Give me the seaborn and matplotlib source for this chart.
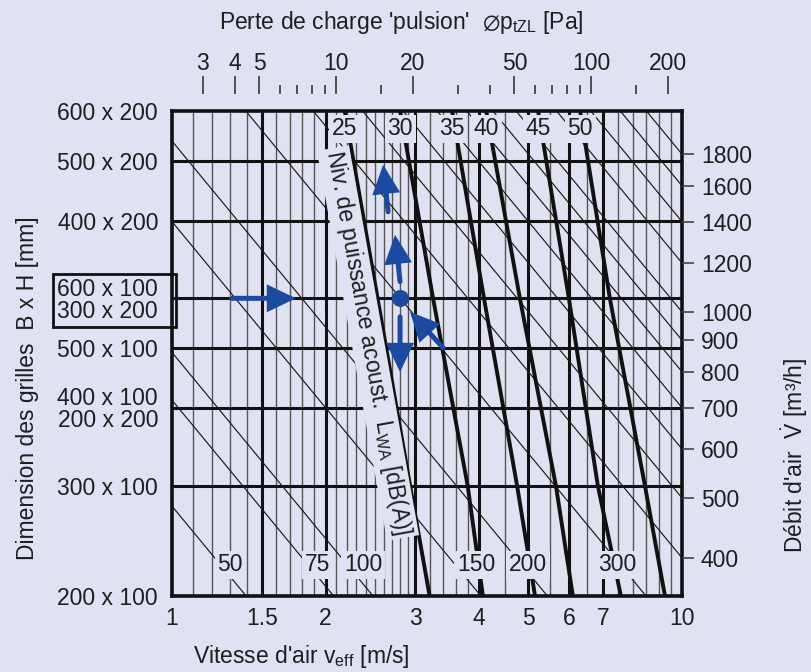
import numpy as np
import pandas as pd
import matplotlib
matplotlib.use("Agg")
import matplotlib.pyplot as plt
import seaborn as sns
from matplotlib.transforms import offset_copy, blended_transform_factory, IdentityTransform
from matplotlib.patches import Rectangle
from matplotlib.ticker import NullLocator, NullFormatter

# ---------------- data ----------------
grille_labels = ['200 x 100', '300 x 100', '400 x 100\n200 x 200', '500 x 100',
                 '600 x 100\n300 x 200', '400 x 200', '500 x 200', '600 x 200']
grille_flow10 = [347, 523, 700, 874, 1052, 1404, 1755, 2118]   # row position (m³/h at 10 m/s)
boxed_grille = '600 x 100\n300 x 200'

velocity_ticks = [1, 1.5, 2, 3, 4, 5, 6, 7, 10]
velocity_labels = ['1', '1.5', '2', '3', '4', '5', '6', '7', '10']
v_grid_thin = [1.1, 1.2, 1.3, 1.4, 1.6, 1.7, 1.8, 1.9, 2.1, 2.2, 2.3, 2.4, 2.5, 2.6, 2.7,
               2.8, 2.9, 3.2, 3.4, 3.6, 3.8, 4.5, 5.5, 6.5, 7.5, 8, 8.5, 9, 9.5]
v_grid_thick = [1.5, 2, 3, 4, 5, 6, 7]

flow_ticks = [400, 500, 600, 700, 800, 900, 1000, 1200, 1400, 1600, 1800]

dp_major = [3, 4, 5, 10, 20, 50, 100, 200]
dp_minor = [6, 7, 8, 9, 15, 30, 40, 60, 70, 80, 90, 150]
dp_coef = 2.27          # Δp = dp_coef * v²

diag_flows = [48.5, 72, 86, 140, 189, 295, 400, 500, 600, 700, 800, 900, 1000,
              1200, 1400, 1600, 1800]
flow_label_text = ['50', '75', '100', '150', '200', '300']
flow_label_v = [1.30, 1.93, 2.37, 3.95, 4.99, 7.45]

lw_levels = [25, 30, 35, 40, 45, 50]
lw_rows = [2118, 1052, 523, 347]
lw25_v = [2.18, 2.53, 2.93, 3.20]
lw30_v = [2.80, 3.25, 3.80, 4.07]
lw35_v = [3.54, 4.09, 4.75, 5.15]
lw40_v = [4.13, 4.81, 5.66, 6.11]
lw45_v = [5.22, 6.00, 6.84, 7.59]
lw50_v = [6.31, 7.22, 8.46, 9.26]

example_v = 2.8
example_row = 1052

# ---------------- style ----------------
BG = '#e0e2f1'
BLUE = '#1b4aa0'
TXT = '#1e1e1e'
FS = 16.5

sns.set_theme(style='white', rc={'axes.facecolor': BG, 'figure.facecolor': BG})
plt.rcParams['font.family'] = ['Liberation Sans', 'DejaVu Sans']
plt.rcParams['mathtext.fontset'] = 'custom'
plt.rcParams['mathtext.rm'] = 'Liberation Sans'
plt.rcParams['mathtext.it'] = 'Liberation Sans'
plt.rcParams['mathtext.fallback'] = 'stixsans'
plt.rcParams['text.color'] = TXT

fig = plt.figure(figsize=(8.11, 6.72), dpi=100, facecolor=BG)
ax = fig.add_axes([172 / 811, 1 - 596 / 672, 510 / 811, 485.5 / 672])
ax.set_facecolor(BG)
ax.set_xscale('log')
ax.set_yscale('log')
ax.set_xlim(1, 10)
ax.set_ylim(grille_flow10[0], grille_flow10[-1])

# grid
for v in v_grid_thin:
    ax.axvline(v, color='#555555', lw=1.0, zorder=1)
for v in v_grid_thick:
    ax.axvline(v, color='#111111', lw=2.2, zorder=1.2)
for f in grille_flow10[1:-1]:
    ax.axhline(f, color='#111111', lw=2.2, zorder=1.2)

# diagonal constant-flow lines
diag_df = pd.DataFrame({
    'v': [x for V in diag_flows for x in (1.0, 10.0)],
    'row': [y for V in diag_flows for y in (10.0 * V, V)],
    'id': [V for V in diag_flows for _ in range(2)],
})
sns.lineplot(data=diag_df, x='v', y='row', units='id', estimator=None, sort=False,
             color='#1a1a1a', lw=0.85, ax=ax, zorder=2, legend=False)

# sound power curves
lw_all = [lw25_v, lw30_v, lw35_v, lw40_v, lw45_v, lw50_v]
lw_df = pd.DataFrame({
    'v': [x for vs in lw_all for x in vs],
    'row': [r for vs in lw_all for r in lw_rows],
    'Lw': [L for L, vs in zip(lw_levels, lw_all) for _ in vs],
})
sns.lineplot(data=lw_df, x='v', y='row', units='Lw', estimator=None, sort=False,
             color='#111111', lw=2.8, ax=ax, zorder=3, legend=False)
ax.set_xlabel('')
ax.set_ylabel('')

box = dict(boxstyle='square,pad=0.12', fc=BG, ec='none')
tr_top = blended_transform_factory(ax.transData, ax.transAxes)
for L, vs in zip(lw_levels, lw_all):
    ax.text(vs[0], 0.962, str(L), transform=tr_top, ha='center', va='center',
            fontsize=FS, color=TXT, bbox=box, zorder=4)
for t, v in zip(flow_label_text, flow_label_v):
    ax.text(v, 0.064, t, transform=tr_top, ha='center', va='center',
            fontsize=FS, color=TXT, bbox=box, zorder=4)

# rotated sound level caption
ax.text((368 - 172) / 510, (596 - 343) / 485.5,
        r"Niv. de puissance acoust.  L$_{\mathrm{WA}}$ [dB(A)]",
        transform=ax.transAxes, rotation=-79.8, rotation_mode='anchor',
        ha='center', va='center', fontsize=FS, color=TXT,
        bbox=dict(boxstyle='square,pad=0.12', fc=BG, ec='none'), zorder=4)

# example: blue arrows
def off(dx, dy):
    return offset_copy(ax.transData, fig=fig, x=dx, y=dy, units='points')

arrows = [((-121, 0), (-75, 0)),      # from left to grille row
          ((0, 12), (-3.6, 45.7)),    # up 1
          ((-8.6, 62.3), (-12.2, 96.1)),  # up 2
          ((0, -13.3), (0, -53)),     # down
          ((31, -35.6), (7.2, -9.7))]     # diagonal
for (tx, ty), (hx, hy) in arrows:
    ax.annotate('', xy=(example_v, example_row), xycoords=off(hx, hy),
                xytext=(example_v, example_row), textcoords=off(tx, ty),
                arrowprops=dict(arrowstyle='-|>,head_length=0.75,head_width=0.36',
                                mutation_scale=20, lw=3.6, color=BLUE,
                                shrinkA=0, shrinkB=0, joinstyle='miter'),
                zorder=6)
ax.scatter([example_v], [example_row], s=150, color=BLUE, zorder=7, linewidths=0)

# axes ticks
ax.set_xticks(velocity_ticks, labels=velocity_labels)
ax.xaxis.set_minor_locator(NullLocator())
ax.set_yticks(grille_flow10, labels=grille_labels)
ax.yaxis.set_minor_locator(NullLocator())
ax.tick_params(axis='x', length=0, pad=8, labelsize=FS, labelcolor=TXT)
ax.tick_params(axis='y', length=0, pad=10, labelsize=FS, labelcolor=TXT)
for lbl in ax.get_yticklabels():
    lbl.set_linespacing(0.95)
for sp in ax.spines.values():
    sp.set_linewidth(2.6)
    sp.set_color('#111111')
    sp.set_zorder(8)

# right axis: flow
ax2 = ax.twinx()
ax2.set_yscale('log')
ax2.set_ylim(ax.get_ylim())
ax2.set_yticks(flow_ticks, labels=[str(f) for f in flow_ticks])
ax2.yaxis.set_minor_locator(NullLocator())
ax2.tick_params(axis='y', length=8.6, width=1.2, color='#444444', pad=5,
                labelsize=FS, labelcolor=TXT)
for sp in ax2.spines.values():
    sp.set_visible(False)

# top axis: pressure drop
secax = ax.secondary_xaxis(1 + 16 / 485.5,
                           functions=(lambda v: dp_coef * np.asarray(v) ** 2,
                                      lambda p: np.sqrt(np.clip(np.asarray(p, float), 1e-12, None) / dp_coef)))
secax.set_xticks(dp_major, labels=[str(p) for p in dp_major])
secax.set_xticks(dp_minor, minor=True)
secax.xaxis.set_minor_formatter(NullFormatter())
secax.tick_params(which='major', length=12.7, width=1.3, color='#444444', pad=1,
                  labelsize=FS, labelcolor=TXT)
secax.tick_params(which='minor', length=6.7, width=1.3, color='#444444')
for sp in secax.spines.values():
    sp.set_visible(False)

# titles
fig.text(401 / 811, 1 - 22 / 672,
         r"Perte de charge 'pulsion'  $\varnothing$p$_{\mathrm{tZL}}$ [Pa]",
         ha='center', va='center', fontsize=FS, color=TXT)
fig.text(301 / 811, 1 - 657 / 672, r"Vitesse d'air v$_{\mathrm{eff}}$ [m/s]",
         ha='center', va='center', fontsize=FS, color=TXT)
fig.text(28 / 811, 1 - 388 / 672, "Dimension des grilles  B x H [mm]",
         rotation=90, ha='center', va='center', fontsize=FS, color=TXT)
fig.text(795 / 811, 1 - 455 / 672, r"Débit d'air  $\dot{\mathrm{V}}$ [m³/h]",
         rotation=90, ha='center', va='center', fontsize=FS, color=TXT)

# frame around the highlighted grille label
fig.canvas.draw()
for lbl in ax.get_yticklabels():
    if lbl.get_text() == boxed_grille:
        bb = lbl.get_window_extent()
        x0 = bb.x0 - 4
        x1 = ax.get_window_extent().x0 + 4
        rect = Rectangle((x0, bb.y0 - 4), x1 - x0, bb.height + 8, transform=IdentityTransform(),
                         fill=False, ec='#111111', lw=2.0, zorder=9)
        fig.add_artist(rect)

fig.savefig('out.png', dpi=100, facecolor=BG)
